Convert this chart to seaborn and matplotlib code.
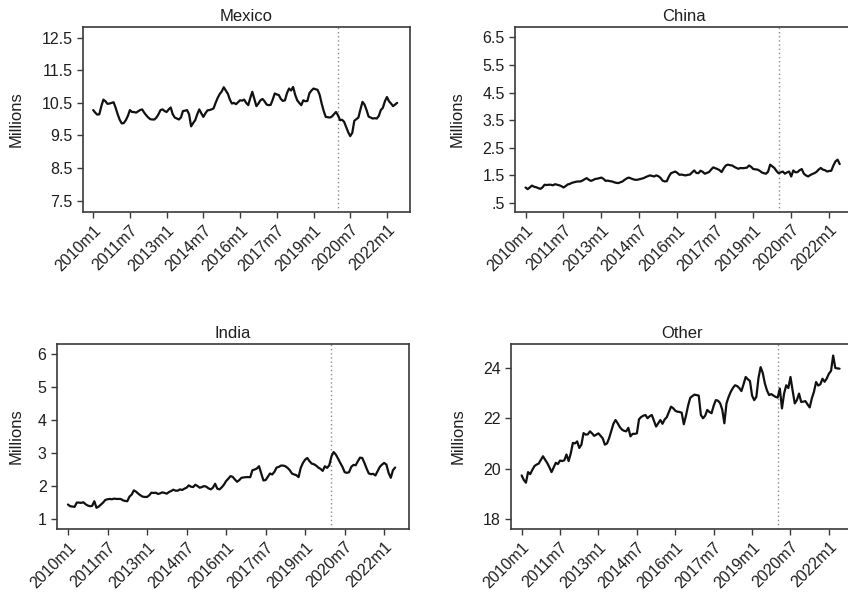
import matplotlib
matplotlib.use("Agg")
import matplotlib.pyplot as plt
import numpy as np
import pandas as pd
import seaborn as sns

sns.set_theme(style="white")
plt.rcParams["font.family"] = ["Liberation Sans", "DejaVu Sans"]

# Monthly stocks in millions, 2010m1 .. 2022m6 (150 months)
mexico = [
    10.28, 10.20, 10.14, 10.15, 10.40, 10.60, 10.55, 10.47, 10.48, 10.50, 10.52, 10.35,
    10.15, 9.98, 9.87, 9.88, 9.97, 10.10, 10.28, 10.22, 10.22, 10.20, 10.24, 10.28,
    10.30, 10.20, 10.12, 10.05, 10.00, 9.99, 9.99, 10.05, 10.15, 10.28, 10.30, 10.25,
    10.22, 10.30, 10.36, 10.15, 10.05, 10.02, 9.99, 10.05, 10.25, 10.26, 10.28, 10.15,
    9.78, 9.88, 9.97, 10.15, 10.30, 10.18, 10.07, 10.18, 10.27, 10.28, 10.30, 10.33,
    10.50, 10.65, 10.77, 10.85, 10.98, 10.88, 10.78, 10.60, 10.48, 10.50, 10.46, 10.52,
    10.58, 10.57, 10.60, 10.50, 10.43, 10.65, 10.84, 10.62, 10.40, 10.48, 10.58, 10.62,
    10.55, 10.45, 10.43, 10.44, 10.60, 10.79, 10.76, 10.74, 10.62, 10.56, 10.58, 10.80,
    10.94, 10.88, 10.99, 10.75, 10.58, 10.50, 10.43, 10.58, 10.55, 10.56, 10.80, 10.88,
    10.94, 10.92, 10.90, 10.75, 10.48, 10.25, 10.07, 10.06, 10.05, 10.08, 10.15, 10.22,
    10.12, 9.97, 9.98, 9.92, 9.76, 9.60, 9.48, 9.58, 9.95, 10.00, 10.05, 10.30,
    10.53, 10.45, 10.28, 10.08, 10.05, 10.02, 10.03, 10.02, 10.10, 10.28, 10.35, 10.55,
    10.68, 10.55, 10.48, 10.40, 10.45, 10.50,
]
china = [
    1.05, 0.99, 1.05, 1.12, 1.08, 1.06, 1.03, 1.00, 1.05, 1.15, 1.14, 1.15,
    1.15, 1.13, 1.17, 1.15, 1.13, 1.10, 1.05, 1.10, 1.16, 1.18, 1.22, 1.24,
    1.26, 1.27, 1.27, 1.30, 1.35, 1.39, 1.33, 1.29, 1.32, 1.36, 1.37, 1.39,
    1.41, 1.36, 1.29, 1.30, 1.28, 1.27, 1.24, 1.22, 1.21, 1.24, 1.27, 1.33,
    1.38, 1.41, 1.38, 1.35, 1.33, 1.33, 1.35, 1.37, 1.39, 1.43, 1.46, 1.49,
    1.47, 1.45, 1.49, 1.46, 1.40, 1.30, 1.27, 1.28, 1.45, 1.57, 1.60, 1.63,
    1.58, 1.51, 1.52, 1.50, 1.49, 1.51, 1.52, 1.60, 1.67, 1.58, 1.57, 1.66,
    1.62, 1.55, 1.58, 1.61, 1.70, 1.78, 1.75, 1.72, 1.68, 1.61, 1.75, 1.85,
    1.88, 1.86, 1.85, 1.80, 1.76, 1.73, 1.76, 1.75, 1.76, 1.77, 1.85, 1.80,
    1.72, 1.71, 1.70, 1.66, 1.60, 1.57, 1.55, 1.62, 1.88, 1.82, 1.76, 1.65,
    1.57, 1.60, 1.63, 1.55, 1.60, 1.63, 1.45, 1.67, 1.60, 1.61, 1.68, 1.72,
    1.55, 1.49, 1.45, 1.50, 1.54, 1.57, 1.62, 1.70, 1.76, 1.70, 1.68, 1.63,
    1.65, 1.66, 1.85, 2.00, 2.06, 1.90,
]
india = [
    1.44, 1.39, 1.38, 1.37, 1.50, 1.50, 1.49, 1.51, 1.45, 1.41, 1.39, 1.40,
    1.54, 1.34, 1.38, 1.44, 1.50, 1.58, 1.60, 1.61, 1.60, 1.62, 1.61, 1.61,
    1.61, 1.57, 1.55, 1.54, 1.68, 1.74, 1.87, 1.83, 1.77, 1.72, 1.68, 1.67,
    1.67, 1.72, 1.80, 1.79, 1.80, 1.76, 1.78, 1.81, 1.79, 1.77, 1.82, 1.85,
    1.89, 1.86, 1.86, 1.90, 1.88, 1.92, 1.95, 2.02, 1.98, 1.97, 2.04, 2.00,
    1.95, 1.97, 2.00, 1.98, 1.93, 1.90, 1.95, 2.07, 1.92, 1.90, 1.96, 2.04,
    2.15, 2.22, 2.30, 2.28, 2.20, 2.13, 2.18, 2.25, 2.26, 2.27, 2.27, 2.27,
    2.48, 2.50, 2.53, 2.60, 2.38, 2.17, 2.18, 2.28, 2.38, 2.35, 2.43, 2.56,
    2.58, 2.62, 2.62, 2.60, 2.55, 2.48, 2.38, 2.35, 2.33, 2.27, 2.55, 2.70,
    2.80, 2.85, 2.75, 2.68, 2.66, 2.62, 2.56, 2.52, 2.46, 2.60, 2.55, 2.63,
    2.90, 3.03, 2.95, 2.83, 2.70, 2.58, 2.42, 2.40, 2.42, 2.58, 2.64, 2.63,
    2.75, 2.86, 2.85, 2.70, 2.53, 2.38, 2.36, 2.37, 2.32, 2.45, 2.58, 2.65,
    2.70, 2.65, 2.40, 2.25, 2.48, 2.56,
]
other = [
    19.73, 19.55, 19.44, 19.86, 19.78, 19.95, 20.10, 20.16, 20.20, 20.35, 20.49, 20.35,
    20.22, 20.05, 19.86, 20.05, 20.23, 20.18, 20.32, 20.30, 20.33, 20.56, 20.30, 20.60,
    21.02, 21.00, 21.08, 20.82, 20.95, 21.41, 21.35, 21.36, 21.48, 21.40, 21.30, 21.35,
    21.40, 21.30, 21.20, 20.95, 21.00, 21.21, 21.50, 21.78, 21.93, 21.80, 21.65, 21.55,
    21.50, 21.48, 21.62, 21.28, 21.38, 21.38, 21.40, 21.96, 22.05, 22.10, 22.13, 22.00,
    22.08, 22.13, 21.90, 21.67, 21.80, 21.93, 21.78, 21.95, 22.04, 22.25, 22.46, 22.40,
    22.30, 22.26, 22.25, 22.22, 21.76, 22.10, 22.50, 22.81, 22.88, 22.94, 22.92, 22.90,
    22.13, 22.00, 22.10, 22.33, 22.25, 22.20, 22.50, 22.72, 22.70, 22.60, 22.35, 21.80,
    22.59, 22.85, 23.05, 23.20, 23.31, 23.28, 23.20, 23.08, 23.35, 23.64, 23.55, 23.48,
    22.90, 22.72, 22.85, 23.60, 24.03, 23.80, 23.38, 23.10, 22.92, 22.96, 22.90, 22.85,
    22.82, 23.18, 22.39, 22.98, 23.31, 23.20, 23.64, 23.10, 22.59, 22.72, 22.98, 22.65,
    22.66, 22.68, 22.55, 22.43, 22.79, 23.05, 23.44, 23.30, 23.35, 23.57, 23.45, 23.58,
    23.77, 23.88, 24.49, 24.00, 23.98, 23.97,
]

# Time axis: months since 2010m1, labelled every 18 months
x_tick_months = [0, 18, 36, 54, 72, 90, 108, 126, 144]
x_tick_labels = ["2010m1", "2011m7", "2013m1", "2014m7", "2016m1",
                 "2017m7", "2019m1", "2020m7", "2022m1"]
break_month = 120  # 2020m1

mexico_ticks = [7.5, 8.5, 9.5, 10.5, 11.5, 12.5]
mexico_tick_labels = ["7.5", "8.5", "9.5", "10.5", "11.5", "12.5"]
china_ticks = [0.5, 1.5, 2.5, 3.5, 4.5, 5.5, 6.5]
china_tick_labels = [".5", "1.5", "2.5", "3.5", "4.5", "5.5", "6.5"]
india_ticks = [1, 2, 3, 4, 5, 6]
india_tick_labels = ["1", "2", "3", "4", "5", "6"]
other_ticks = [18, 20, 22, 24]
other_tick_labels = ["18", "20", "22", "24"]

W, H = 848, 592
fig = plt.figure(figsize=(W / 100, H / 100), dpi=100)
fig.patch.set_facecolor("white")

TEXT = "#1e1e1e"
FRAME = "#3a3a3a"

# (title, values, ticks, tick labels, ylim, box in pixels l,t,r,b, ylabel x offset)
panels = [
    ("Mexico", mexico, mexico_ticks, mexico_tick_labels, (7.15, 12.83), (83, 27, 410, 212), -0.205),
    ("China", china, china_ticks, china_tick_labels, (0.16, 6.88), (515, 27, 853, 212), -0.172),
    ("India", india, india_ticks, india_tick_labels, (0.70, 6.30), (57, 344, 409, 529), -0.117),
    ("Other", other, other_ticks, other_tick_labels, (17.6, 24.95), (511, 344, 853, 529), -0.155),
]

for title, values, yt, ytl, ylim, (l, t, r, b), ylab_x in panels:
    ax = fig.add_axes([l / W, 1 - b / H, (r - l) / W, (b - t) / H])
    df = pd.DataFrame({"month": np.arange(len(values)), "value": values})
    sns.lineplot(data=df, x="month", y="value", ax=ax, color="#111111",
                 linewidth=1.6, estimator=None)
    ax.axvline(break_month, color="#8a8a8a", linestyle=(0, (1, 2)), linewidth=1.0, zorder=1)

    ax.set_xlim(-5, 155.3)
    ax.set_ylim(*ylim)
    ax.set_xticks(x_tick_months)
    ax.set_xticklabels(x_tick_labels, rotation=45, ha="right", va="top",
                       rotation_mode="anchor")
    ax.set_yticks(yt)
    ax.set_yticklabels(ytl)
    ax.tick_params(axis="both", which="major", direction="out", length=4.5, width=1.0,
                   color=FRAME, labelcolor=TEXT, labelsize=11.5, pad=3,
                   bottom=True, left=True, top=False, right=False)
    for sp in ax.spines.values():
        sp.set_visible(True)
        sp.set_color(FRAME)
        sp.set_linewidth(1.2)

    ax.set_title(title, fontsize=12, color=TEXT, pad=4)
    ax.set_xlabel("")
    ax.set_ylabel("Millions", fontsize=12, color=TEXT)
    ax.yaxis.label.set_va("center")
    ax.yaxis.set_label_coords(ylab_x, 0.5)
    ax.grid(False)

fig.savefig("out.png", dpi=100, facecolor="white")
